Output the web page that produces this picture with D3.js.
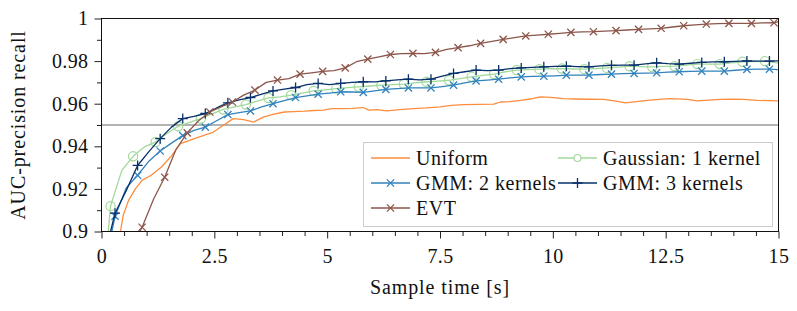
<!doctype html>
<html>
<head>
<meta charset="utf-8">
<title>AUC-precision recall</title>
<script src="https://d3js.org/d3.v7.min.js"></script>
<style>
  body { margin: 0; background: #ffffff; }
  svg text { font-family: "Liberation Serif", "DejaVu Serif", "Times New Roman", serif !important; }
</style>
</head>
<body>
<script>
// tick values
var xTicks = [0, 2.5, 5, 7.5, 10, 12.5, 15];
var xTickLabels = ["0", "2.5", "5", "7.5", "10", "12.5", "15"];
var yTicks = [0.9, 0.92, 0.94, 0.96, 0.98, 1];
var yTickLabels = ["0.9", "0.92", "0.94", "0.96", "0.98", "1"];
var refLine = 0.95;

// series
var uniformT = [0.42, 0.48, 0.6, 0.75, 0.9, 1.1, 1.33, 1.55, 1.75, 1.95, 2.25, 2.48, 2.7, 2.92, 3.15, 3.37, 3.6, 3.8, 4.05, 4.25, 4.5, 4.7, 4.92, 5.1, 5.3, 5.55, 5.8, 5.92, 6.1, 6.32, 6.6, 6.91, 7.2, 7.5, 7.75, 8.02, 8.35, 8.69, 8.84, 9.05, 9.28, 9.5, 9.72, 9.95, 10.24, 10.5, 10.8, 11.13, 11.4, 11.61, 11.85, 12.09, 12.35, 12.6, 12.98, 13.2, 13.45, 13.71, 14.0, 14.23, 14.53, 14.8, 15];
var uniformV = [0.900, 0.9075, 0.9146, 0.9200, 0.9240, 0.9264, 0.9303, 0.9355, 0.9413, 0.9428, 0.9450, 0.9467, 0.9499, 0.9530, 0.9525, 0.9514, 0.9538, 0.9550, 0.9561, 0.9563, 0.9565, 0.9568, 0.9570, 0.9577, 0.9577, 0.9578, 0.9582, 0.9570, 0.9572, 0.9566, 0.9572, 0.9577, 0.9580, 0.9585, 0.9592, 0.9596, 0.9597, 0.9598, 0.9608, 0.9610, 0.9616, 0.9622, 0.9632, 0.9630, 0.9624, 0.9622, 0.9621, 0.9620, 0.9612, 0.9604, 0.9610, 0.9616, 0.9620, 0.9624, 0.9620, 0.9613, 0.9617, 0.9620, 0.9621, 0.9620, 0.9616, 0.9614, 0.9613];

var gaussT = [0.15, 0.2, 0.45, 0.7, 0.95, 1.2, 1.45, 1.7, 1.95, 2.2, 2.45, 2.7, 2.95, 3.2, 3.45, 3.7, 3.95, 4.2, 4.45, 4.7, 4.95, 5.2, 5.45, 5.7, 5.95, 6.2, 6.45, 6.7, 6.95, 7.2, 7.45, 7.7, 7.95, 8.2, 8.45, 8.7, 8.95, 9.2, 9.45, 9.7, 9.95, 10.2, 10.45, 10.7, 10.95, 11.2, 11.45, 11.7, 11.95, 12.2, 12.45, 12.7, 12.95, 13.2, 13.45, 13.7, 13.95, 14.2, 14.45, 14.7, 15];
var gaussV = [0.900, 0.9119, 0.9287, 0.9353, 0.9397, 0.9420, 0.9460, 0.9494, 0.9512, 0.9530, 0.9552, 0.9573, 0.9585, 0.9596, 0.9612, 0.9627, 0.9632, 0.9640, 0.9650, 0.9660, 0.9665, 0.9671, 0.9675, 0.9679, 0.9683, 0.9687, 0.9690, 0.9692, 0.9698, 0.9703, 0.9706, 0.9710, 0.9718, 0.9726, 0.9733, 0.9739, 0.9750, 0.9758, 0.9760, 0.9762, 0.9764, 0.9765, 0.9763, 0.9762, 0.9765, 0.9768, 0.9772, 0.9776, 0.9774, 0.9773, 0.9775, 0.9776, 0.9781, 0.9786, 0.9786, 0.9786, 0.9792, 0.9797, 0.9798, 0.9800, 0.9790];

var gmm2T = [0.23, 0.3, 0.55, 0.8, 1.05, 1.3, 1.55, 1.8, 2.05, 2.3, 2.55, 2.8, 3.05, 3.3, 3.55, 3.8, 4.05, 4.3, 4.55, 4.8, 5.05, 5.3, 5.55, 5.8, 6.05, 6.3, 6.55, 6.8, 7.05, 7.3, 7.55, 7.8, 8.05, 8.3, 8.55, 8.8, 9.05, 9.3, 9.55, 9.8, 10.05, 10.3, 10.55, 10.8, 11.05, 11.3, 11.55, 11.8, 12.05, 12.3, 12.55, 12.8, 13.05, 13.3, 13.55, 13.8, 14.05, 14.3, 14.55, 14.8, 15];
var gmm2V = [0.900, 0.9072, 0.9205, 0.9264, 0.9330, 0.9378, 0.9415, 0.9450, 0.9475, 0.9490, 0.9520, 0.9549, 0.9558, 0.9566, 0.9585, 0.9600, 0.9615, 0.9629, 0.9637, 0.9645, 0.9650, 0.9656, 0.9655, 0.9653, 0.9660, 0.9667, 0.9671, 0.9674, 0.9674, 0.9674, 0.9680, 0.9687, 0.9698, 0.9707, 0.9711, 0.9715, 0.9721, 0.9726, 0.9728, 0.9729, 0.9731, 0.9734, 0.9734, 0.9734, 0.9737, 0.9739, 0.9741, 0.9742, 0.9744, 0.9745, 0.9748, 0.9750, 0.9752, 0.9753, 0.9753, 0.9753, 0.9757, 0.9761, 0.9762, 0.9762, 0.9760];

var gmm3T = [0.2, 0.3, 0.55, 0.8, 1.05, 1.3, 1.55, 1.8, 2.05, 2.3, 2.55, 2.8, 3.05, 3.3, 3.55, 3.8, 4.05, 4.3, 4.55, 4.8, 5.05, 5.3, 5.55, 5.8, 6.05, 6.3, 6.55, 6.8, 7.05, 7.3, 7.55, 7.8, 8.05, 8.3, 8.55, 8.8, 9.05, 9.3, 9.55, 9.8, 10.05, 10.3, 10.55, 10.8, 11.05, 11.3, 11.55, 11.8, 12.05, 12.3, 12.55, 12.8, 13.05, 13.3, 13.55, 13.8, 14.05, 14.3, 14.55, 14.8, 15];
var gmm3V = [0.900, 0.9086, 0.9193, 0.9310, 0.9375, 0.9436, 0.9490, 0.9530, 0.9540, 0.9554, 0.9580, 0.9604, 0.9618, 0.9629, 0.9645, 0.9660, 0.9668, 0.9676, 0.9690, 0.9695, 0.9690, 0.9695, 0.9700, 0.9703, 0.9702, 0.9707, 0.9712, 0.9715, 0.9712, 0.9715, 0.9730, 0.9742, 0.9750, 0.9758, 0.9755, 0.9758, 0.9765, 0.9768, 0.9771, 0.9773, 0.9775, 0.9776, 0.9774, 0.9773, 0.9778, 0.9780, 0.9781, 0.9781, 0.9787, 0.9792, 0.9788, 0.9786, 0.9790, 0.9794, 0.9796, 0.9797, 0.9799, 0.9801, 0.9800, 0.9800, 0.9801];

var evtT = [0.85, 0.9, 1.15, 1.4, 1.65, 1.9, 2.15, 2.4, 2.65, 2.9, 3.15, 3.4, 3.65, 3.9, 4.15, 4.4, 4.65, 4.9, 5.15, 5.4, 5.65, 5.9, 6.15, 6.4, 6.65, 6.9, 7.15, 7.4, 7.65, 7.9, 8.15, 8.4, 8.65, 8.9, 9.15, 9.4, 9.65, 9.9, 10.15, 10.4, 10.65, 10.9, 11.15, 11.4, 11.65, 11.9, 12.15, 12.4, 12.65, 12.9, 13.15, 13.4, 13.65, 13.9, 14.15, 14.4, 14.65, 14.9, 15];
var evtV = [0.900, 0.9020, 0.9150, 0.9255, 0.9385, 0.9463, 0.9520, 0.9561, 0.9585, 0.9608, 0.9640, 0.9664, 0.9700, 0.9711, 0.9718, 0.9739, 0.9745, 0.9752, 0.9755, 0.9768, 0.9797, 0.9809, 0.9820, 0.9831, 0.9835, 0.9836, 0.9835, 0.9841, 0.9855, 0.9863, 0.9872, 0.9883, 0.9893, 0.9902, 0.9910, 0.9918, 0.9922, 0.9926, 0.9930, 0.9935, 0.9937, 0.9938, 0.9941, 0.9943, 0.9946, 0.9949, 0.9951, 0.9954, 0.9960, 0.9966, 0.9970, 0.9974, 0.9976, 0.9977, 0.9977, 0.9977, 0.9979, 0.9980, 0.9985];

var seriesNames = ["Uniform", "Gaussian: 1 kernel", "GMM: 2 kernels", "GMM: 3 kernels", "EVT"];

// drawing options per series
var series = [
  { name: seriesNames[0], t: uniformT, v: uniformV, color: "#fd8d3c", mark: null },
  { name: seriesNames[1], t: gaussT, v: gaussV, color: "#a1d99b", mark: "o", markStart: 0.2 },
  { name: seriesNames[2], t: gmm2T, v: gmm2V, color: "#3182bd", mark: "x", markStart: 0.3 },
  { name: seriesNames[3], t: gmm3T, v: gmm3V, color: "#08306b", mark: "+", markStart: 0.3 },
  { name: seriesNames[4], t: evtT, v: evtV, color: "#8c564b", mark: "x", markStart: 0.9 }
];

var W = 797, H = 311;
var pLeft = 101.5, pRight = 778.5, pTop = 18.5, pBottom = 231.5;
var serif = "Liberation Serif, DejaVu Serif, serif";
var fontSize = "20px";

var x = d3.scaleLinear().domain([0, 15]).range([pLeft, pRight]);
var y = d3.scaleLinear().domain([0.9, 1]).range([pBottom, pTop]);

var svg = d3.select("body").append("svg")
  .attr("width", W)
  .attr("height", H)
  .attr("font-family", serif);

svg.append("defs").append("clipPath").attr("id", "plotclip")
  .append("rect")
  .attr("x", pLeft).attr("y", pTop)
  .attr("width", pRight - pLeft).attr("height", pBottom - pTop);

// minor ticks
var xMinor = d3.range(0, 15.01, 0.5).filter(function(d) { return Math.abs(d / 2.5 - Math.round(d / 2.5)) > 1e-6; });
var yMinor = [0.91, 0.93, 0.95, 0.97, 0.99];

svg.append("g")
  .attr("transform", "translate(0," + pBottom + ")")
  .call(d3.axisBottom(x).tickValues(xMinor).tickFormat("").tickSize(4.5).tickSizeOuter(0))
  .call(function(g) { g.select(".domain").remove(); });
svg.append("g")
  .attr("transform", "translate(" + pLeft + ",0)")
  .call(d3.axisLeft(y).tickValues(yMinor).tickFormat("").tickSize(4.5).tickSizeOuter(0))
  .call(function(g) { g.select(".domain").remove(); });

// major ticks
var xAxis = svg.append("g")
  .attr("transform", "translate(0," + pBottom + ")")
  .call(d3.axisBottom(x).tickValues(xTicks)
    .tickFormat(function(d, i) { return xTickLabels[i]; })
    .tickSize(7).tickPadding(10).tickSizeOuter(0));
xAxis.select(".domain").remove();

var yAxis = svg.append("g")
  .attr("transform", "translate(" + pLeft + ",0)")
  .call(d3.axisLeft(y).tickValues(yTicks)
    .tickFormat(function(d, i) { return yTickLabels[i]; })
    .tickSize(7).tickPadding(6).tickSizeOuter(0));
yAxis.select(".domain").remove();

svg.selectAll("g").attr("font-family", serif).attr("font-size", fontSize);
svg.selectAll(".tick line").attr("stroke", "#222");
svg.selectAll(".tick text").attr("fill", "#111").attr("letter-spacing", "0.4px");

// reference line at 0.95
svg.append("line")
  .attr("x1", pLeft).attr("x2", pRight)
  .attr("y1", y(refLine)).attr("y2", y(refLine))
  .attr("stroke", "#9a9a9a")
  .attr("stroke-width", 1.6);

// curves
var line = d3.line()
  .x(function(d) { return x(d[0]); })
  .y(function(d) { return y(d[1]); });

var plot = svg.append("g").attr("clip-path", "url(#plotclip)");

function drawMarker(g, type, cx, cy, color) {
  if (type === "o") {
    g.append("circle").attr("cx", cx).attr("cy", cy).attr("r", 4.6)
      .attr("fill", "none").attr("stroke", color).attr("stroke-width", 1.2);
  } else if (type === "x") {
    var s = 3.6;
    g.append("path")
      .attr("d", "M" + (cx - s) + "," + (cy - s) + "L" + (cx + s) + "," + (cy + s) +
                 "M" + (cx - s) + "," + (cy + s) + "L" + (cx + s) + "," + (cy - s))
      .attr("stroke", color).attr("stroke-width", 1.3).attr("fill", "none");
  } else if (type === "+") {
    var p = 5;
    g.append("path")
      .attr("d", "M" + (cx - p) + "," + cy + "L" + (cx + p) + "," + cy +
                 "M" + cx + "," + (cy - p) + "L" + cx + "," + (cy + p))
      .attr("stroke", color).attr("stroke-width", 1.3).attr("fill", "none");
  }
}

series.forEach(function(s) {
  var pts = s.t.map(function(t, i) { return [t, s.v[i]]; });
  var g = plot.append("g");
  g.append("path")
    .datum(pts)
    .attr("d", line)
    .attr("fill", "none")
    .attr("stroke", s.color)
    .attr("stroke-width", 1.3)
    .attr("stroke-linejoin", "round");
  if (s.mark) {
    pts.forEach(function(p) {
      var k = (p[0] - s.markStart) / 0.5;
      if (k >= -1e-6 && Math.abs(k - Math.round(k)) < 1e-6) {
        drawMarker(g, s.mark, x(p[0]), y(p[1]), s.color);
      }
    });
  }
});

// frame
svg.append("rect")
  .attr("x", pLeft).attr("y", pTop)
  .attr("width", pRight - pLeft).attr("height", pBottom - pTop)
  .attr("fill", "none")
  .attr("stroke", "#111")
  .attr("stroke-width", 1);

// axis titles
svg.append("text")
  .attr("x", (pLeft + pRight) / 2)
  .attr("y", 294)
  .attr("text-anchor", "middle")
  .attr("font-size", fontSize)
  .attr("letter-spacing", "0.9px")
  .attr("fill", "#111")
  .text("Sample time [s]");

svg.append("text")
  .attr("transform", "translate(25," + ((pTop + pBottom) / 2) + ") rotate(-90)")
  .attr("text-anchor", "middle")
  .attr("font-size", fontSize)
  .attr("letter-spacing", "0.9px")
  .attr("fill", "#111")
  .text("AUC-precision recall");

// legend
var legend = svg.append("g").attr("font-size", fontSize);
legend.append("rect")
  .attr("x", 363.5).attr("y", 142.5)
  .attr("width", 409).attr("height", 84)
  .attr("fill", "#ffffff")
  .attr("stroke", "#cccccc")
  .attr("stroke-width", 1);

var legendPos = [
  [371, 158], [558, 158],
  [371, 183], [558, 183],
  [371, 208]
];

series.forEach(function(s, i) {
  var lx = legendPos[i][0], ly = legendPos[i][1];
  var g = legend.append("g");
  g.append("line")
    .attr("x1", lx).attr("x2", lx + 39)
    .attr("y1", ly).attr("y2", ly)
    .attr("stroke", s.color).attr("stroke-width", 1.3);
  if (s.mark) {
    if (s.mark === "o") {
      g.append("circle").attr("cx", lx + 19.5).attr("cy", ly).attr("r", 3.5)
        .attr("fill", "#fff").attr("stroke", s.color).attr("stroke-width", 1.2);
    } else {
      drawMarker(g, s.mark, lx + 19.5, ly, s.color);
    }
  }
  g.append("text")
    .attr("x", lx + 45)
    .attr("y", ly + 6.5)
    .attr("fill", "#111")
    .attr("letter-spacing", "0.5px")
    .text(s.name);
});
</script>
</body>
</html>
